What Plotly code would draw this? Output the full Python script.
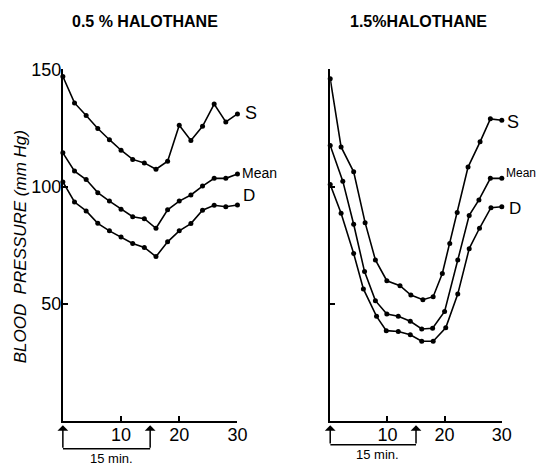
import plotly.graph_objects as go

# ---- data ----
time_left = [0, 2, 4, 6, 8, 10, 12, 14, 16, 18, 20, 22, 24, 26, 28, 30]
left_S = [147, 135.7, 130.3, 124.8, 120, 115.5, 111.6, 110.1, 107.4, 110.8, 126.2, 119.7, 125.7, 135.2, 127.6, 131]
left_mean = [114.4, 106.6, 103, 97.4, 93.8, 90.3, 87.1, 86.3, 82.2, 90.1, 93.8, 96.4, 100.2, 103.5, 103.5, 105.4]
left_D = [102, 93.4, 89.6, 84.3, 81.1, 78.5, 75.7, 74, 70.1, 76.4, 81.1, 84.2, 89.9, 92, 91.4, 92.1]

time_right_S = [0, 1.9, 4.1, 6.1, 7.9, 9.9, 12.2, 14.1, 16.2, 18, 19.6, 20.9, 22.2, 24.1, 26.2, 28, 30]
right_S = [146, 116.9, 106.3, 84.6, 68.7, 59.8, 57.7, 53.7, 51.7, 53, 62.9, 75.7, 88.9, 108.3, 119.1, 128.9, 128.3]
time_right_mean = [0, 2.2, 4.1, 6, 7.9, 9.9, 11.9, 14, 16, 17.9, 20, 22.3, 24.3, 26, 28, 30]
right_mean = [117.5, 102.3, 83.9, 63.7, 51.3, 45.6, 44.6, 42.5, 39.2, 39.5, 46.7, 68.7, 87.7, 94.3, 103.5, 103.5]
time_right_D = [0, 1.9, 4.1, 5.8, 8.1, 9.8, 11.9, 14, 16, 18, 20.2, 22.3, 24.3, 26.1, 28.1, 30]
right_D = [100.9, 88.6, 71.4, 56.3, 44.6, 38.5, 38.1, 36.7, 34, 34, 39.7, 54.1, 73.5, 82.2, 91, 91.4]

panel_titles = ["0.5 % HALOTHANE", "1.5%HALOTHANE"]
series_names = ["S", "Mean", "D"]
x_ticks = [10, 20, 30]
y_ticks = [50, 100, 150]
y_title = "BLOOD  PRESSURE"
y_unit = "(mm Hg)"
interval_label = "15 min."
interval_minutes = 15

FONT = "Liberation Sans, Arial, sans-serif"
W, H = 544, 465

# screen-pixel -> paper fraction helpers (with a small correction for page offset)
def fx(t):
    return ((t - 7) / 0.984) / W

def fy(t):
    return 1 - ((t - 18.7) / 0.976) / H

fig = go.Figure()

def add_series(x, y, xa, ya):
    fig.add_trace(go.Scatter(
        x=x, y=y, mode="lines+markers", xaxis=xa, yaxis=ya,
        line=dict(color="black", width=1.6),
        marker=dict(color="black", size=5),
        cliponaxis=False, showlegend=False, hoverinfo="x+y"))

add_series(time_left, left_S, "x", "y")
add_series(time_left, left_mean, "x", "y")
add_series(time_left, left_D, "x", "y")
add_series(time_right_S, right_S, "x2", "y2")
add_series(time_right_mean, right_mean, "x2", "y2")
add_series(time_right_D, right_D, "x2", "y2")

ydom = [fy(420.5), fy(70)]
axis_common = dict(showgrid=False, zeroline=False, showline=True, linecolor="black",
                   linewidth=2, ticks="inside", ticklen=5, tickwidth=1.5, tickcolor="black",
                   tickfont=dict(family=FONT, size=18, color="black"))

fig.update_layout(
    width=W, height=H, margin=dict(l=0, r=0, t=0, b=0),
    paper_bgcolor="white", plot_bgcolor="white",
    xaxis=dict(domain=[fx(62), fx(237)], range=[0, 30], tickvals=x_ticks, anchor="y",
               ticklabelstandoff=-3, **axis_common),
    yaxis=dict(domain=ydom, range=[0, 150], tickvals=y_ticks, anchor="x",
               ticklabelstandoff=-4, **axis_common),
    xaxis2=dict(domain=[fx(330), fx(502)], range=[0, 30], tickvals=x_ticks, anchor="y2",
                ticklabelstandoff=-3, **axis_common),
    yaxis2=dict(domain=ydom, range=[0, 150], tickvals=y_ticks, showticklabels=False, anchor="x2", **axis_common),
)

ann = []
# panel titles
for title, cx, cy in [(panel_titles[0], 144, 21.7), (panel_titles[1], 418, 22)]:
    ann.append(dict(text="<b>" + title + "</b>", x=fx(cx), y=fy(cy), xref="paper", yref="paper",
                    xanchor="center", yanchor="middle", showarrow=False,
                    font=dict(family=FONT, size=16, color="black")))
# y title
ann.append(dict(text="<i>" + y_title + " " + y_unit + "</i>",
                x=fx(19), y=fy(246.5), xref="paper", yref="paper", textangle=-90,
                xanchor="center", yanchor="middle", showarrow=False,
                font=dict(family=FONT, size=17, color="black")))

# series labels (x in minutes, y in mmHg, font size)
lab_left = [(31.0, 131.4, 18), (30.4, 105.9, 14), (30.65, 96.4, 17)]
lab_right = [(30.6, 127.4, 18), (30.3, 106.0, 12), (30.9, 90.8, 17)]
for labs, xd, ya in [(lab_left, "x domain", "y"), (lab_right, "x2 domain", "y2")]:
    for (x, y, sz), name in zip(labs, series_names):
        ann.append(dict(text=name, x=x / 30, y=y, xref=xd, yref=ya, xanchor="left",
                        yanchor="middle", showarrow=False,
                        font=dict(family=FONT, size=sz, color="black")))

# interval arrows and brackets
shapes = []
TIP = 425
for xr, br_y, lab_x, lab_y in [("x", 448.3, 8.4, 458), ("x2", 444.3, 8.3, 454)]:
    for xv in [0, interval_minutes]:
        ann.append(dict(text="", x=xv, y=fy(TIP), xref=xr, yref="paper", showarrow=True,
                        ax=0, ay=(br_y - TIP) / 0.976, axref="pixel", ayref="pixel",
                        arrowhead=1, arrowsize=1.2, arrowwidth=1.5, arrowcolor="black"))
    shapes.append(dict(type="line", x0=0, x1=interval_minutes, y0=fy(br_y), y1=fy(br_y),
                       xref=xr, yref="paper", line=dict(color="black", width=1.5)))
    ann.append(dict(text=interval_label, x=lab_x, y=fy(lab_y), xref=xr, yref="paper",
                    xanchor="center", yanchor="middle",
                    showarrow=False, font=dict(family=FONT, size=13, color="black")))

fig.update_layout(annotations=ann, shapes=shapes)
fig.write_html("out.html")
